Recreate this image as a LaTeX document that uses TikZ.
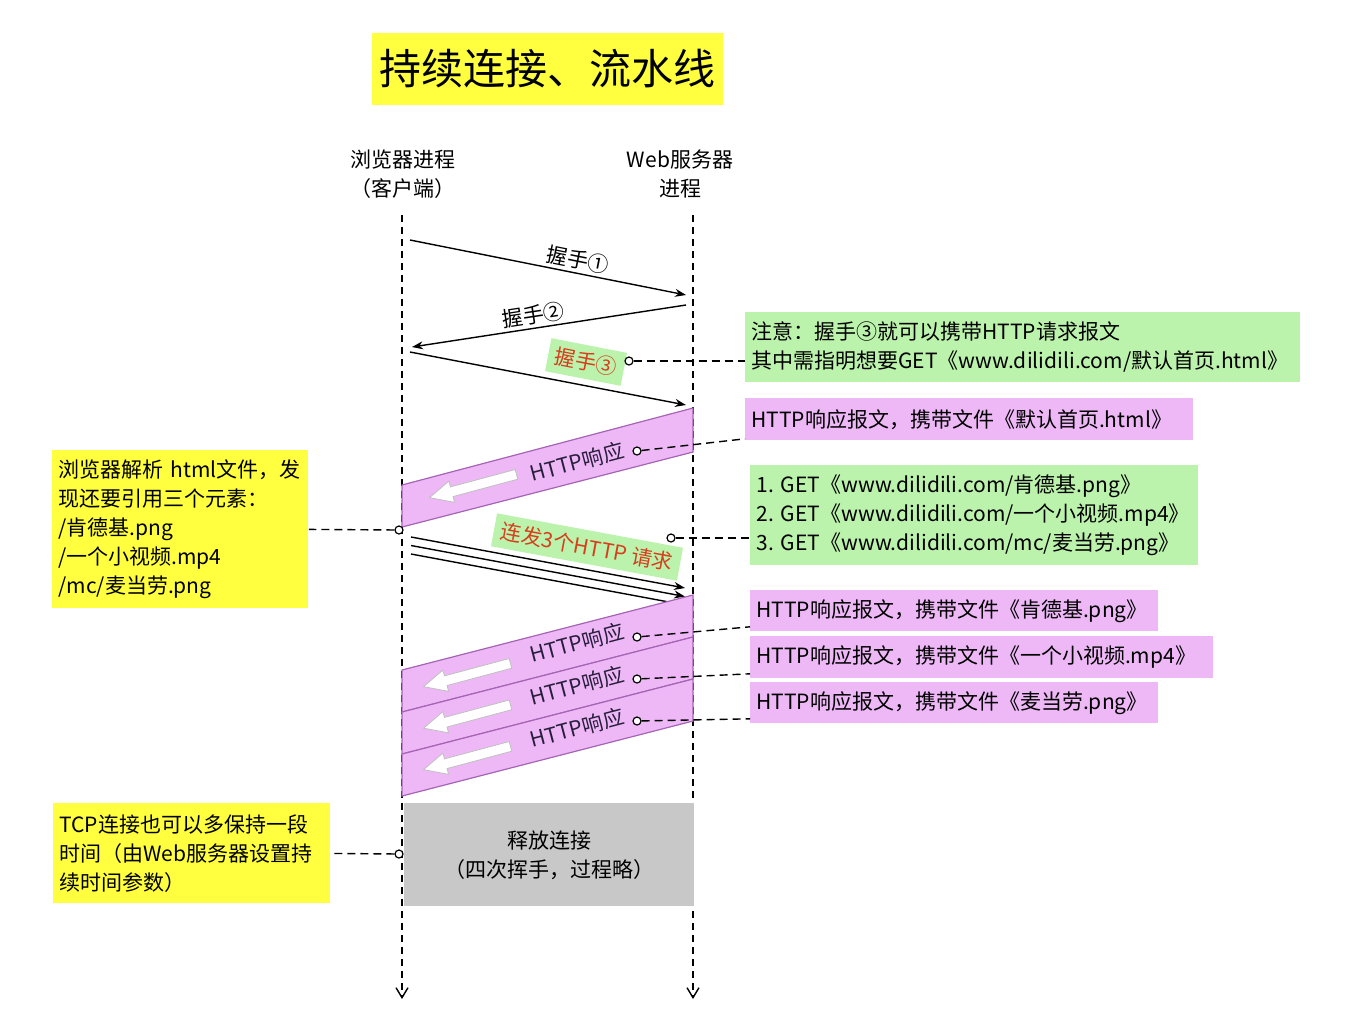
\documentclass[tikz,border=0pt]{standalone}
\usepackage{fontspec}
\setmainfont{Noto Sans CJK SC}
\usepackage{xcolor}
\usetikzlibrary{arrows.meta, calc}

\definecolor{titley}{RGB}{255,255,64}
\definecolor{noteg}{RGB}{188,243,172}
\definecolor{notep}{RGB}{238,184,247}
\definecolor{bandedge}{RGB}{165,100,180}
\definecolor{boxgray}{RGB}{200,200,200}
\definecolor{tagred}{RGB}{214,62,30}
\definecolor{bandtext}{RGB}{40,30,60}

\tikzset{leftarrow/.pic={\filldraw[fill=white, draw=gray!50, line width=0.4pt] (-45,0) -- (-22,-11) -- (-22,-5) -- (45,-5) -- (45,5) -- (-22,5) -- (-22,11) -- cycle;}}

\begin{document}
\begin{tikzpicture}[x=0.5pt, y=-0.5pt, >={Stealth[length=5.5pt, width=4pt]},
  every node/.style={font=\fontsize{10.5}{14.5}\selectfont},
  life/.style={dash pattern=on 3.5pt off 2.5pt, line width=0.7pt, -{Straight Barb[length=5pt, width=6pt]}},
  msg/.style={->, line width=0.7pt},
  link/.style={dash pattern=on 4pt off 2.5pt, line width=0.7pt},
  dot/.style={circle, draw, fill=white, inner sep=0pt, minimum size=4pt, line width=0.6pt},
  note/.style={anchor=north west, align=left, inner xsep=3pt, inner ysep=0pt},
  band/.style={fill=notep, draw=bandedge, line width=0.6pt},
  bandlabel/.style={rotate=14.8, inner sep=0pt, text=bandtext},
  tag/.style={fill=noteg, text=tagred, inner sep=3.5pt}]
  \path[use as bounding box, fill=white] (0,0) rectangle (1363,1034);

  \node[fill=titley, minimum width=175.5pt, minimum height=36pt, font=\fontsize{21}{24}\selectfont] (title) at (547.5,69) {持续连接、流水线};
  \node[align=center] (browser) at (403,174) {浏览器进程\\（客户端）};
  \node[align=center] (server) at (680,174) {Web服务器\\进程};

  \coordinate (lb_top) at (402,215);
  \coordinate (lb_bot) at (402,999);
  \coordinate (lw_top) at (693,215);
  \coordinate (lw_bot) at (693,999);
  \draw[life] (lb_top) -- (lb_bot);
  \draw[life] (lw_top) -- (lw_bot);

  \coordinate (b1) at (410,240);
  \coordinate (w1) at (686,295);
  \coordinate (w2) at (686,305);
  \coordinate (b2) at (412,347);
  \coordinate (b3) at (410,352);
  \coordinate (w3) at (686,405);
  \draw[msg] (b1) -- node[sloped, above, pos=0.6, inner sep=1.5pt] (lab_hs1) {握手①} (w1);
  \draw[msg] (w2) -- node[sloped, above, pos=0.55, inner sep=1.5pt] (lab_hs2) {握手②} (b2);
  \node[tag, rotate=-11] (tag_hs) at (586,362) {握手③};
  \draw[msg] (b3) -- (w3);

  \filldraw[band] (402,485) -- (693,408) -- (693,452) -- (402,527) -- cycle;
  \node[bandlabel] (t_r0) at (577,462) {HTTP响应};
  \pic[rotate=15] at (473,486) {leftarrow};

  \node[tag, rotate=-10.5] (tag_get) at (587,547) {连发3个HTTP 请求};
  \foreach \k in {0,1,2} {
    \coordinate (rq_s\k) at (411,{537+8.5*\k});
    \coordinate (rq_e\k) at (685,{588+8.5*\k});
    \draw[msg] (rq_s\k) -- (rq_e\k);
  }

  \foreach \k in {0,1,2} {
    \filldraw[band] (402,{670+42*\k}) -- (693,{595+42*\k}) -- (693,{637+42*\k}) -- (402,{712+42*\k}) -- cycle;
  }
  \foreach \k/\n in {0/1,1/2,2/3} {
    \node[bandlabel] (t_r\n) at (577,{643+42.5*\k}) {HTTP响应};
    \pic[rotate=15] at (467,{675+41.5*\k}) {leftarrow};
    \node[dot] (c_r\n) at (637,{637+42*\k}) {};
  }

  \node[fill=boxgray, minimum width=145pt, minimum height=51.5pt, anchor=north west, align=center] (release) at (404,803) {释放连接\\（四次挥手，过程略）};

  \node[note, fill=noteg, text width=271.5pt, minimum height=35pt] (note_hs) at (745,312) {注意：握手③就可以携带HTTP请求报文\\其中需指明想要GET《www.dilidili.com/默认首页.html》};
  \node[note, fill=notep, text width=218pt, minimum height=21pt] (note_r0) at (745,398) {HTTP响应报文，携带文件《默认首页.html》};
  \node[note, fill=noteg, text width=218pt, minimum height=50pt] (note_get) at (750,465) {1.~GET《www.dilidili.com/肯德基.png》\\2.~GET《www.dilidili.com/一个小视频.mp4》\\3.~GET《www.dilidili.com/mc/麦当劳.png》};
  \node[note, fill=notep, text width=198pt, minimum height=20.5pt] (note_r1) at (750,590) {HTTP响应报文，携带文件《肯德基.png》};
  \node[note, fill=notep, text width=225.5pt, minimum height=21pt] (note_r2) at (750,636) {HTTP响应报文，携带文件《一个小视频.mp4》};
  \node[note, fill=notep, text width=198pt, minimum height=20.5pt] (note_r3) at (750,682) {HTTP响应报文，携带文件《麦当劳.png》};
  \node[note, fill=titley, text width=122pt, minimum height=79pt] (note_parse) at (52,450) {浏览器解析~html文件，发\\现还要引用三个元素：\\/肯德基.png\\/一个小视频.mp4\\/mc/麦当劳.png};
  \node[note, fill=titley, text width=132.5pt, minimum height=50pt] (note_keep) at (53,803) {TCP连接也可以多保持一段\\时间（由Web服务器设置持\\续时间参数）};

  \node[dot] (c_hs) at (629,361) {};
  \node[dot] (c_r0) at (637,451) {};
  \node[dot] (c_get) at (671,538) {};
  \node[dot] (c_parse) at (399,530) {};
  \node[dot] (c_keep) at (399,854) {};
  \draw[link] (c_hs) -- (c_hs -| note_hs.west);
  \draw[link] (c_r0) -- ([yshift=1pt]note_r0.south west);
  \draw[link] (c_get) -- (c_get -| note_get.west);
  \foreach \n in {1,2,3}
    \draw[link] (c_r\n) -- ([yshift=2.5pt]note_r\n.south west);
  \draw[link] (c_parse) -- (note_parse.east);
  \draw[link] (c_keep) -- (note_keep.east);
\end{tikzpicture}
\end{document}
